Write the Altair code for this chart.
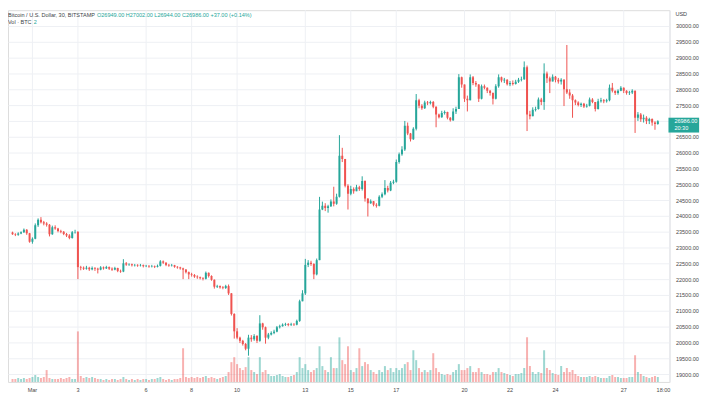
import altair as alt
import pandas as pd

# ---------------- data (3-hour candles) ----------------
first_open = 23470
closes = [
    # Feb 28 (03h..21h)
    23420, 23400, 23440, 23480, 23560, 23450, 23180,
    # Mar 1
    23280, 23700, 23880, 23800, 23760, 23720, 23420, 23640,
    # Mar 2
    23600, 23520, 23500, 23430, 23380, 23300, 23480, 23490,
    # Mar 3
    22380, 22360, 22330, 22360, 22310, 22350, 22330, 22300,
    # Mar 4
    22370, 22340, 22380, 22330, 22300, 22350, 22260, 22240,
    # Mar 5
    22500, 22460, 22470, 22440, 22450, 22430, 22440, 22410,
    # Mar 6
    22420, 22400, 22410, 22390, 22420, 22560, 22520, 22450,
    # Mar 7
    22430, 22440, 22390, 22370, 22340, 22300, 22220, 22150,
    # Mar 8
    22130, 22080, 22060, 22030, 22010, 22200, 22100, 21980,
    # Mar 9
    21760, 21780, 21740, 21720, 21780, 21550, 20900, 20350,
    # Mar 10
    20150, 20050, 19950, 19800, 20150, 20100, 20200, 20050,
    # Mar 11
    20600, 20480, 20150, 20250, 20300, 20340, 20480, 20510,
    # Mar 12
    20560, 20580, 20550, 20570, 20560, 20680, 21300, 21550,
    # Mar 13
    22450, 22520, 22480, 22150, 22600, 24200, 24320, 24250,
    # Mar 14
    24300, 24450, 24380, 24600, 25900, 25800, 24950, 24700,
    # Mar 15
    24850, 24780, 24900, 24850, 25100, 24550, 24400, 24460,
    # Mar 16
    24350, 24320, 24600, 24680, 24880, 24800, 25050, 25080,
    # Mar 17
    25700, 25950, 26100, 26850, 26600, 26420, 26750, 27650,
    # Mar 18
    27480, 27400, 27580, 27560, 27600, 27450, 27200, 27120,
    # Mar 19
    27250, 27280, 27100, 27020, 27300, 27380, 28380, 28150,
    # Mar 20
    27700, 27650, 28380, 28200, 28150, 27700, 28100, 28050,
    # Mar 21
    27950, 27880, 27700, 28100, 28380, 28280, 28300, 28160,
    # Mar 22
    28200, 28170, 28240, 28300, 28320, 28700, 27200, 27150,
    # Mar 23
    27350, 27380, 27680, 27600, 28500, 28350, 28250, 28400,
    # Mar 24
    28300, 28250, 28300, 28000, 27900, 27800, 27650, 27580,
    # Mar 25
    27500, 27540, 27460, 27480, 27680, 27600, 27380, 27620,
    # Mar 26
    27650, 27620, 27650, 28050, 27950, 27880, 27950, 28050,
    # Mar 27
    27950, 27880, 27900, 27950, 27100, 27200, 27050, 27100,
    # Mar 28 (00h..12h)
    27000, 27060, 26950, 26900, 26986,
]
highs = [
    23500, 23450, 23480, 23510, 23600, 23580, 23460,
    23320, 23760, 23920, 23960, 23840, 23800, 23740, 23690,
    23700, 23620, 23560, 23520, 23460, 23420, 23520, 23560,
    23520, 22420, 22400, 22420, 22390, 22400, 22380, 22360,
    22410, 22400, 22420, 22400, 22370, 22390, 22360, 22300,
    22630, 22540, 22500, 22490, 22480, 22470, 22480, 22460,
    22450, 22440, 22450, 22430, 22460, 22600, 22590, 22530,
    22480, 22480, 22450, 22410, 22390, 22360, 22320, 22240,
    22200, 22160, 22120, 22080, 22060, 22240, 22210, 22120,
    21990, 21820, 21800, 21780, 21820, 21830, 21560, 20920,
    20450, 20180, 20080, 19980, 20240, 20230, 20260, 20230,
    20860, 20620, 20500, 20300, 20350, 20400, 20520, 20560,
    20600, 20620, 20610, 20620, 20610, 20720, 21350, 21650,
    22640, 22600, 22580, 22500, 22650, 24600, 24450, 24400,
    24350, 24520, 24920, 24700, 26550, 26150, 25800, 25000,
    24950, 24900, 24980, 24950, 25250, 25120, 24550, 24520,
    24470, 24400, 24650, 24740, 25130, 24950, 25100, 25140,
    25780, 26000, 26200, 27000, 26950, 26620, 26800, 27850,
    27700, 27530, 27640, 27630, 27640, 27630, 27460, 27230,
    27320, 27330, 27290, 27120, 27400, 27450, 28480, 28400,
    28100, 27800, 28470, 28420, 28260, 28160, 28150, 28150,
    28060, 27980, 27900, 28160, 28470, 28400, 28360, 28320,
    28260, 28280, 28300, 28360, 28400, 28880, 28750, 27320,
    27430, 27450, 27740, 27730, 28820, 28560, 28400, 28470,
    28420, 28360, 28350, 28320, 29400, 28000, 27850, 27680,
    27620, 27580, 27570, 27540, 27740, 27720, 27600, 27700,
    27730, 27690, 27700, 28150, 28200, 27960, 28000, 28100,
    28060, 27970, 27950, 28000, 27960, 27280, 27250, 27200,
    27150, 27100, 27080, 26990, 27020,
]
lows = [
    23400, 23360, 23370, 23420, 23460, 23400, 23150,
    23120, 23260, 23650, 23760, 23700, 23660, 23350, 23400,
    23560, 23480, 23450, 23390, 23330, 23260, 23280, 23440,
    22000, 22280, 22290, 22300, 22260, 22280, 22260, 22180,
    22280, 22300, 22320, 22290, 22260, 22280, 22220, 22200,
    22220, 22420, 22420, 22400, 22400, 22390, 22400, 22370,
    22380, 22360, 22370, 22350, 22370, 22400, 22480, 22410,
    22390, 22400, 22360, 22330, 22300, 22000, 22180, 22000,
    22080, 22040, 22010, 21990, 21960, 21990, 22050, 21950,
    21700, 21720, 21700, 21680, 21690, 21500, 20850, 20120,
    20100, 19980, 19900, 19750, 19580, 20020, 20050, 19980,
    20020, 20400, 19960, 20100, 20220, 20260, 20320, 20440,
    20500, 20520, 20510, 20520, 20520, 20540, 20650, 21350,
    21500, 22380, 22420, 22000, 22120, 22600, 24180, 24150,
    24100, 24280, 24300, 24350, 24580, 25700, 24900, 24200,
    24650, 24700, 24800, 24790, 24800, 24450, 23980, 24380,
    24300, 24260, 24300, 24560, 24650, 24740, 24780, 25000,
    25050, 25650, 25900, 26050, 26550, 26350, 26400, 26700,
    27400, 27350, 27380, 27500, 27520, 27400, 26800, 27080,
    27100, 27200, 27050, 26980, 27000, 27220, 27380, 28050,
    27600, 27300, 27650, 28130, 28080, 27600, 27680, 28000,
    27880, 27800, 27520, 27680, 28050, 28220, 28200, 28120,
    28100, 28120, 28150, 28200, 28250, 28300, 26680, 27050,
    27250, 27300, 27360, 27500, 27350, 28200, 27880, 28250,
    28220, 28180, 28150, 27470, 27850, 27700, 27100, 27500,
    27460, 27440, 27410, 27420, 27460, 27560, 27300, 27360,
    27580, 27560, 27580, 27620, 27900, 27820, 27830, 27940,
    27880, 27830, 27820, 27850, 26620, 27000, 26970, 26950,
    26900, 26900, 26850, 26720, 26880,
]
volumes = [  # BTC per bar (peak-ish)
    60, 60, 80, 60, 80, 60, 80,
    100, 140, 100, 80, 100, 240, 80, 60,
    60, 60, 80, 60, 80, 100, 60, 60,
    1020, 120, 80, 100, 80, 100, 80, 60,
    60, 40, 60, 40, 60, 60, 40, 60,
    100, 60, 40, 60, 40, 60, 40, 60,
    60, 40, 60, 60, 80, 100, 60, 40,
    60, 40, 60, 60, 80, 680, 100, 80,
    100, 80, 100, 80, 100, 120, 80, 100,
    80, 60, 80, 100, 120, 200, 400, 500,
    360, 280, 240, 300, 500, 240, 200, 160,
    500, 200, 240, 160, 120, 120, 140, 160,
    120, 100, 100, 120, 140, 200, 500, 280,
    360, 240, 200, 240, 280, 720, 320, 240,
    200, 500, 280, 280, 900, 440, 360, 720,
    240, 200, 280, 680, 320, 400, 360, 240,
    200, 160, 240, 200, 320, 240, 280, 200,
    280, 240, 280, 360, 400, 240, 640, 440,
    280, 200, 240, 200, 240, 580, 280, 200,
    160, 140, 160, 140, 200, 240, 360, 240,
    240, 280, 320, 200, 200, 280, 200, 160,
    160, 140, 200, 200, 280, 200, 180, 160,
    140, 120, 160, 160, 180, 280, 900, 320,
    200, 160, 200, 180, 640, 280, 240, 180,
    160, 140, 320, 200, 280, 200, 240, 160,
    120, 100, 100, 100, 120, 100, 120, 100,
    80, 80, 80, 120, 140, 100, 100, 80,
    80, 80, 100, 100, 540, 200, 160, 120,
    100, 80, 100, 120, 100,
]

date_labels = ["Mar", "3", "6", "8", "10", "13", "15", "17", "20", "22", "24", "27", "18:00"]
date_values = ["2023-03-01", "2023-03-03", "2023-03-06", "2023-03-08", "2023-03-10",
               "2023-03-13", "2023-03-15", "2023-03-17", "2023-03-20", "2023-03-22",
               "2023-03-24", "2023-03-27", "2023-03-28T18:00"]
price_ticks = list(range(19000, 30001, 500))

title_text = "Bitcoin / U.S. Dollar, 30, BITSTAMP"
ohlc_text = "O26949.00  H27002.00  L26944.00  C26986.00  +37.00 (+0.14%)"
vol_text = "Vol · BTC"
vol_value = "2"
countdown = "20:30"

# ---------------- table ----------------
n = len(closes)
times = pd.date_range("2023-02-28 03:00", periods=n, freq="3h", tz="UTC")
opens = [first_open] + closes[:-1]
df = pd.DataFrame({
    "t": times.strftime("%Y-%m-%dT%H:%M:%SZ"),
    "open": opens, "close": closes,
    "high": [max(h, o, c) for h, o, c in zip(highs, opens, closes)],
    "low": [min(l, o, c) for l, o, c in zip(lows, opens, closes)],
    "vol": volumes,
})
df["dir"] = ["up" if c >= o else "down" for o, c in zip(opens, closes)]

dates_df = pd.DataFrame({"d": [v + ("Z" if "T" in v else "T00:00:00Z") for v in date_values],
                         "lab": date_labels})

# ---------------- layout ----------------
W, H = 669, 376
mar1 = pd.Timestamp("2023-03-01T00:00:00Z").value // 10**6
day = 86400000
px_per_day = 23.35
x0 = mar1 - 20 / px_per_day * day
x1 = mar1 + (W - 20) / px_per_day * day
xscale = alt.Scale(type="utc", domain=[x0, x1])
pscale = alt.Scale(domain=[18750, 30500], nice=False, zero=False)
vscale = alt.Scale(domain=[0, 7500], nice=False)

UP, DOWN = "#26a69a", "#ef5350"
col = alt.Color("dir:N", scale=alt.Scale(domain=["up", "down"], range=[UP, DOWN]), legend=None)
FONT = "Liberation Sans"
FS = 5.6

base = alt.Chart(df)

grid_v = alt.Chart(dates_df[dates_df.lab != "18:00"]).mark_rule(color="#eef0f4", strokeWidth=1).encode(
    x=alt.X("d:T", scale=xscale, axis=None))

date_txt = alt.Chart(dates_df).mark_text(fontSize=FS, font=FONT, color="#4a4a4a", baseline="middle").encode(
    x=alt.X("d:T", scale=xscale, axis=None), y=alt.value(H + 8), text="lab:N")

vol = base.mark_bar(size=2, opacity=0.45, clip=True).encode(
    x=alt.X("t:T", scale=xscale, axis=None),
    y=alt.Y("vol:Q", scale=vscale, axis=None),
    color=col)

wick = base.mark_rule(strokeWidth=1, clip=True).encode(
    x=alt.X("t:T", scale=xscale, axis=None),
    y=alt.Y("low:Q", scale=pscale,
            axis=alt.Axis(orient="right", values=price_ticks, format=".2f", title=None,
                          labelFontSize=FS, labelFont=FONT, labelColor="#4a4a4a",
                          ticks=False, domain=True, domainColor="#e6e8ee", labelPadding=6,
                          grid=True, gridColor="#eef0f4", labelAlign="left")),
    y2="high:Q", color=col)

body = base.mark_bar(size=2, clip=True).encode(
    x=alt.X("t:T", scale=xscale, axis=None),
    y=alt.Y("open:Q", scale=pscale, axis=None),
    y2="close:Q", color=col)

last = alt.Chart(df.tail(1)).transform_calculate(top="datum.close + 116", bot="datum.close - 353")
box = last.mark_rect(color=UP).encode(
    x=alt.value(W - 1), x2=alt.value(W + 30),
    y=alt.Y("top:Q", scale=pscale, axis=None), y2="bot:Q")
box_price = last.mark_text(align="left", baseline="middle", color="white", fontSize=FS, font=FONT).encode(
    x=alt.value(W + 5), y=alt.Y("close:Q", scale=pscale, axis=None), text=alt.Text("close:Q", format=".2f"))
box_cd = last.mark_text(align="left", baseline="middle", color="white", fontSize=FS, font=FONT, dy=7).encode(
    x=alt.value(W + 5), y=alt.Y("close:Q", scale=pscale, axis=None), text=alt.value(countdown))

one = alt.Data(values=[{}])
def txt(s, x, y, color="#3c3f47"):
    return alt.Chart(one).mark_text(align="left", baseline="middle", fontSize=FS, font=FONT, color=color).encode(
        x=alt.value(x), y=alt.value(y), text=alt.value(s))

header = [
    txt(title_text, 0, 5),
    txt(ohlc_text, 90, 5, UP),
    txt(vol_text, 0, 12),
    txt(vol_value, 26, 12, UP),
    txt("USD", 675, 4),
]

chart = alt.layer(grid_v, vol, wick, body, box, box_price, box_cd, date_txt, *header).resolve_scale(
    y="independent").properties(
    width=W, height=H,
    autosize=alt.AutoSizeParams(type="none"),
    padding={"left": 0, "top": 0, "right": 41, "bottom": 13},
).configure_view(stroke=None).configure(background="white")

chart.save("out.html", embed_options={"renderer": "svg", "actions": False})
